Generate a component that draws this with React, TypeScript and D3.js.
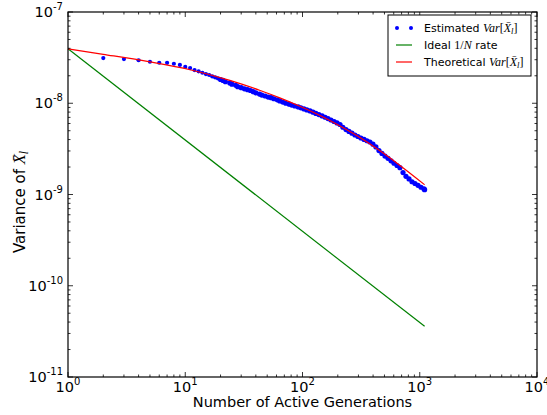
import React from 'react';
import * as d3 from 'd3';

// ---- data ----
const xTickExps = [0, 1, 2, 3, 4];
const yTickExps = [-11, -10, -9, -8, -7];

const estN = [2, 3, 4, 5, 6, 7, 8, 9, 10, 11, 12, 13, 14, 15, 16, 17, 18, 19, 20,
  21, 22, 24, 25, 27, 28, 30, 32, 34, 36,
  38, 40, 43, 45, 48, 51, 54, 57, 61, 64,
  68, 72, 77, 81, 86, 92, 97, 103, 109, 116,
  123, 130, 138, 147, 156, 165, 175, 186, 197, 209,
  221, 235, 249, 264, 280, 297, 315, 335, 355, 376,
  399, 423, 449, 476, 505, 536, 569, 603, 640, 678,
  720, 763, 810, 859, 911, 966, 1025, 1087, 1100];
const estVar = [3.13e-8, 3.05e-8, 2.96e-8, 2.85e-8, 2.78e-8, 2.77e-8, 2.71e-8, 2.63e-8, 2.50e-8, 2.43e-8,
  2.31e-8, 2.24e-8, 2.16e-8, 2.09e-8, 2.04e-8, 1.97e-8, 1.92e-8, 1.87e-8, 1.82e-8,
  1.78e-8, 1.72e-8, 1.67e-8, 1.62e-8, 1.57e-8, 1.52e-8, 1.48e-8, 1.44e-8, 1.41e-8, 1.38e-8,
  1.34e-8, 1.30e-8, 1.26e-8, 1.23e-8, 1.20e-8, 1.17e-8, 1.15e-8, 1.12e-8, 1.09e-8, 1.06e-8,
  1.03e-8, 1.00e-8, 9.77e-9, 9.54e-9, 9.33e-9, 9.12e-9, 8.91e-9, 8.67e-9, 8.45e-9, 8.23e-9,
  7.98e-9, 7.74e-9, 7.51e-9, 7.27e-9, 7.02e-9, 6.79e-9, 6.55e-9, 6.31e-9, 6.08e-9, 5.85e-9,
  5.46e-9, 5.14e-9, 4.91e-9, 4.70e-9, 4.49e-9, 4.32e-9, 4.16e-9, 4.01e-9, 3.88e-9, 3.76e-9,
  3.56e-9, 3.32e-9, 3.03e-9, 2.82e-9, 2.64e-9, 2.49e-9, 2.34e-9, 2.20e-9, 2.08e-9, 1.97e-9,
  1.74e-9, 1.58e-9, 1.48e-9, 1.38e-9, 1.32e-9, 1.26e-9, 1.20e-9, 1.15e-9, 1.13e-9];

const idealN = [1, 1100];
const idealVar = [3.95e-8, 3.59e-11];

const theoN = [1, 2, 5, 11, 24, 43, 64, 95, 141, 209, 309, 458, 678, 1100];
const theoVar = [3.95e-8, 3.44e-8, 2.84e-8, 2.33e-8, 1.78e-8, 1.39e-8, 1.146e-8, 9.27e-9, 7.33e-9,
  5.62e-9, 4.21e-9, 3.01e-9, 2.08e-9, 1.28e-9];

const SANS = 'DejaVu Sans, sans-serif';
const SERIF = 'Liberation Serif, DejaVu Serif, serif';

function VarX({ size }: { size: number }) {
  return (
    <>
      <tspan fontFamily={SERIF} fontStyle="italic" fontSize={size}>Var</tspan>
      <tspan fontFamily={SERIF} fontSize={size}>[</tspan>
      <tspan fontFamily={SERIF} fontStyle="italic" fontSize={size}>{'X\u0304'}</tspan>
      <tspan fontFamily={SERIF} fontStyle="italic" fontSize={size * 0.72} dy={2}>l</tspan>
      <tspan fontFamily={SERIF} fontSize={size} dy={-2}>]</tspan>
    </>
  );
}

export default function App() {
  const W = 547, H = 415;
  const L = 68, R = 537, T = 12, B = 377;
  const x = d3.scaleLog().domain([1, 1e4]).range([L, R]);
  const y = d3.scaleLog().domain([1e-11, 1e-7]).range([B, T]);
  const line = d3.line<[number, number]>().x(d => x(d[0])).y(d => y(d[1]));
  const smooth = d3.line<[number, number]>().x(d => x(d[0])).y(d => y(d[1])).curve(d3.curveMonotoneX);

  const est = estN.map((n, i) => [n, estVar[i]] as [number, number]);
  const ideal = idealN.map((n, i) => [n, idealVar[i]] as [number, number]);
  const theo = theoN.map((n, i) => [n, theoVar[i]] as [number, number]);

  const xMinor: number[] = [];
  for (let e = 0; e < 4; e++) for (let m = 2; m <= 9; m++) xMinor.push(m * Math.pow(10, e));
  const yMinor: number[] = [];
  for (let e = -11; e < -7; e++) for (let m = 2; m <= 9; m++) yMinor.push(m * Math.pow(10, e));

  const MAJ = 5, MIN = 2.5;
  const fs = 14.5;

  return (
    <svg width={W} height={H} style={{ position: 'absolute', left: 0, top: 0, background: '#fff' }}
      fontFamily={SANS}>
      <rect x={0} y={0} width={W} height={H} fill="#fff" />
      {/* data */}
      <g fill="#0000ff">
        {est.map((d, i) => <circle key={i} cx={x(d[0])} cy={y(d[1])} r={d[0] < 20 ? 2.1 : 2.6} />)}
      </g>
      <path d={line(ideal) || ''} fill="none" stroke="#008000" strokeWidth={1.2} />
      <path d={smooth(theo) || ''} fill="none" stroke="#ff0000" strokeWidth={1.2} />

      {/* frame */}
      <rect x={L} y={T} width={R - L} height={B - T} fill="none" stroke="#000" strokeWidth={1.2} />

      {/* ticks */}
      <g stroke="#000" strokeWidth={0.8}>
        {xTickExps.map(e => {
          const px = x(Math.pow(10, e));
          return <g key={'xm' + e}>
            <line x1={px} x2={px} y1={B} y2={B - MAJ} />
            <line x1={px} x2={px} y1={T} y2={T + MAJ} />
          </g>;
        })}
        {xMinor.map((v, i) => {
          const px = x(v);
          return <g key={'xn' + i}>
            <line x1={px} x2={px} y1={B} y2={B - MIN} />
            <line x1={px} x2={px} y1={T} y2={T + MIN} />
          </g>;
        })}
        {yTickExps.map(e => {
          const py = y(Math.pow(10, e));
          return <g key={'ym' + e}>
            <line x1={L} x2={L + MAJ} y1={py} y2={py} />
            <line x1={R} x2={R - MAJ} y1={py} y2={py} />
          </g>;
        })}
        {yMinor.map((v, i) => {
          const py = y(v);
          return <g key={'yn' + i}>
            <line x1={L} x2={L + MIN} y1={py} y2={py} />
            <line x1={R} x2={R - MIN} y1={py} y2={py} />
          </g>;
        })}
      </g>

      {/* tick labels */}
      <g fill="#000">
        {xTickExps.map(e => (
          <text key={'xl' + e} x={x(Math.pow(10, e))} y={392} textAnchor="middle" fontSize={fs}>
            10<tspan fontSize={10} dy={-7}>{String(e)}</tspan>
          </text>
        ))}
        {yTickExps.map(e => (
          <text key={'yl' + e} x={63} y={y(Math.pow(10, e)) + 5} textAnchor="end" fontSize={fs}>
            10<tspan fontSize={10} dy={-7}>{String(e)}</tspan>
          </text>
        ))}
      </g>

      {/* axis titles */}
      <text x={(L + R) / 2} y={407} textAnchor="middle" fontSize={fs}>Number of Active Generations</text>
      <text transform={`translate(25,202) rotate(-90)`} textAnchor="middle" fontSize={15}>
        Variance of <tspan fontFamily={SERIF} fontStyle="italic" fontSize={16.5}>{'X\u0304'}</tspan>
        <tspan fontFamily={SERIF} fontStyle="italic" fontSize={11.5} dy={3}>l</tspan>
      </text>

      {/* legend */}
      <g>
        <rect x={388} y={15} width={143} height={61} fill="#fff" stroke="#000" strokeWidth={1} />
        <circle cx={397} cy={28} r={2} fill="#0000ff" />
        <circle cx={411} cy={28} r={2} fill="#0000ff" />
        <text x={424} y={32} fontSize={11}>Estimated <VarX size={12} /></text>
        <line x1={396} x2={412} y1={45} y2={45} stroke="#008000" strokeWidth={1.2} />
        <text x={424} y={49} fontSize={11}>Ideal <tspan fontFamily={SERIF} fontSize={12}>1/</tspan>
          <tspan fontFamily={SERIF} fontStyle="italic" fontSize={12}>N</tspan> rate</text>
        <line x1={396} x2={412} y1={62} y2={62} stroke="#ff0000" strokeWidth={1.2} />
        <text x={424} y={66} fontSize={11}>Theoretical <VarX size={12} /></text>
      </g>
    </svg>
  );
}
